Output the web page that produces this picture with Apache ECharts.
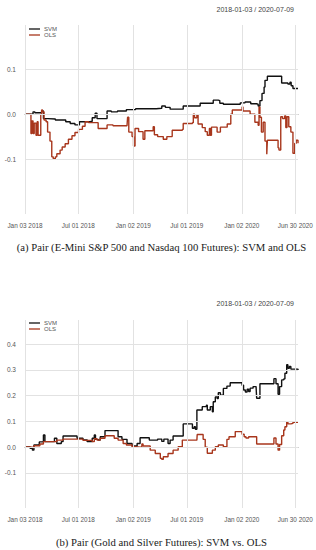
<!DOCTYPE html>
<html>
<head>
<meta charset="utf-8">
<script src="https://cdn.jsdelivr.net/npm/echarts@6/dist/echarts.min.js"></script>
<style>
html,body{margin:0;padding:0;background:#fff;}
#chart{width:316px;height:550px;}
</style>
</head>
<body>
<div id="chart"></div>
<script>
// ---------- DATA ----------
const xTickDates = ['2018-01-03','2018-07-01','2019-01-02','2019-07-01','2020-01-02','2020-06-30'];
const xRange = ['2018-01-03','2020-07-09'];
const rangeLabel = '2018-01-03 / 2020-07-09';
const yTicksA = [-0.1, 0.0, 0.1];
const yTicksB = [-0.1, 0.0, 0.1, 0.2, 0.3, 0.4];
const captionA = '(a) Pair (E-Mini S&P 500 and Nasdaq 100 Futures): SVM and OLS';
const captionB = '(b) Pair (Gold and Silver Futures): SVM vs. OLS';
const seriesNames = ['SVM','OLS'];

// Panel (a): E-Mini S&P 500 / Nasdaq 100
const svmA = [
 ['2018-01-03',0.000],['2018-01-26',0.000],['2018-01-30',0.005],['2018-02-05',0.003],['2018-02-26',0.004],
 ['2018-02-28',0.007],['2018-03-06',-0.010],['2018-03-20',-0.011],['2018-04-15',-0.013],['2018-05-15',-0.013],
 ['2018-05-20',-0.017],['2018-06-04',-0.021],['2018-06-20',-0.024],['2018-07-05',-0.017],['2018-08-10',-0.016],
 ['2018-08-17',-0.008],['2018-08-27',0.002],['2018-09-02',-0.010],['2018-09-30',-0.010],['2018-10-06',0.007],
 ['2018-10-20',0.005],['2018-11-10',0.007],['2018-12-10',0.010],['2019-01-10',0.012],['2019-03-20',0.013],
 ['2019-04-08',0.018],['2019-04-20',0.015],['2019-05-06',0.011],['2019-06-16',0.011],['2019-06-19',0.018],
 ['2019-08-15',0.024],['2019-09-25',0.024],['2019-09-28',0.031],['2019-10-15',0.030],['2019-10-20',0.024],
 ['2019-11-01',0.022],['2019-12-18',0.022],['2019-12-28',0.025],['2020-01-13',0.027],['2020-02-01',0.023],
 ['2020-02-20',0.022],['2020-02-26',0.018],['2020-03-03',0.030],['2020-03-10',0.046],['2020-03-17',0.060],
 ['2020-03-20',0.075],['2020-03-28',0.084],['2020-05-10',0.084],['2020-05-15',0.069],['2020-06-05',0.067],
 ['2020-06-12',0.071],['2020-06-16',0.063],['2020-06-22',0.057],['2020-07-09',0.057]
];
const olsA = [
 ['2018-01-03',0.000],['2018-01-20',0.000],['2018-01-23',-0.043],['2018-01-26',-0.015],['2018-01-30',-0.043],
 ['2018-02-03',-0.020],['2018-02-09',-0.047],['2018-02-13',-0.017],['2018-02-16',-0.047],['2018-02-22',-0.047],
 ['2018-02-25',0.000],['2018-02-28',0.009],['2018-03-03',0.005],['2018-03-08',-0.013],['2018-03-15',-0.017],
 ['2018-03-20',-0.040],['2018-03-28',-0.060],['2018-04-03',-0.095],['2018-04-08',-0.099],['2018-04-15',-0.095],
 ['2018-04-20',-0.088],['2018-05-01',-0.080],['2018-05-08',-0.073],['2018-05-18',-0.066],['2018-05-29',-0.056],
 ['2018-06-10',-0.048],['2018-06-20',-0.041],['2018-07-02',-0.034],['2018-07-15',-0.027],['2018-07-24',-0.017],
 ['2018-08-05',-0.019],['2018-08-27',-0.019],['2018-09-06',-0.032],['2018-09-29',-0.032],['2018-10-06',-0.024],
 ['2018-10-26',-0.026],['2018-12-12',-0.026],['2018-12-14',-0.007],['2018-12-18',-0.040],['2018-12-29',-0.050],
 ['2019-01-03',-0.071],['2019-01-08',-0.032],['2019-01-20',-0.039],['2019-02-04',-0.056],['2019-02-10',-0.037],
 ['2019-02-28',-0.037],['2019-03-10',-0.028],['2019-03-14',-0.046],['2019-03-25',-0.050],['2019-04-13',-0.056],
 ['2019-04-25',-0.050],['2019-05-13',-0.036],['2019-06-16',-0.034],['2019-06-19',-0.021],['2019-07-20',-0.019],
 ['2019-07-23',0.000],['2019-07-27',-0.008],['2019-08-04',-0.002],['2019-08-08',-0.022],['2019-08-22',-0.030],
 ['2019-09-01',-0.039],['2019-09-08',-0.047],['2019-09-15',-0.032],['2019-09-18',-0.047],['2019-09-22',-0.029],
 ['2019-10-11',-0.040],['2019-10-22',-0.029],['2019-11-14',-0.022],['2019-11-26',0.000],['2019-12-01',0.009],
 ['2019-12-28',0.009],['2020-01-03',0.016],['2020-01-06',0.007],['2020-01-30',0.000],['2020-02-15',-0.018],
 ['2020-02-26',-0.025],['2020-02-29',0.016],['2020-03-03',-0.007],['2020-03-08',-0.040],['2020-03-14',-0.018],
 ['2020-03-20',-0.060],['2020-03-26',-0.089],['2020-03-28',-0.058],['2020-04-25',-0.058],['2020-05-03',-0.075],
 ['2020-05-06',-0.080],['2020-05-12',-0.006],['2020-05-18',-0.010],['2020-05-25',-0.004],['2020-05-29',-0.030],
 ['2020-06-02',-0.006],['2020-06-08',-0.028],['2020-06-15',-0.040],['2020-06-22',-0.087],['2020-06-28',-0.065],
 ['2020-07-03',-0.058],['2020-07-09',-0.065]
];

// Panel (b): Gold / Silver
const svmB = [
 ['2018-01-03',0.000],['2018-01-20',-0.005],['2018-01-28',-0.012],['2018-02-02',0.008],['2018-02-20',0.020],
 ['2018-03-06',0.047],['2018-03-11',0.021],['2018-04-08',0.021],['2018-04-12',0.034],['2018-04-20',0.014],
 ['2018-05-05',0.021],['2018-05-11',0.043],['2018-06-20',0.043],['2018-06-27',0.034],['2018-07-17',0.028],
 ['2018-07-31',0.021],['2018-08-17',0.034],['2018-08-24',0.047],['2018-08-28',0.030],['2018-09-06',0.027],
 ['2018-09-13',0.040],['2018-09-29',0.064],['2018-11-09',0.064],['2018-11-12',0.040],['2018-11-25',0.030],
 ['2018-12-12',0.014],['2018-12-29',0.004],['2019-01-15',0.014],['2019-01-25',0.036],['2019-02-18',0.036],
 ['2019-02-25',0.027],['2019-03-25',0.031],['2019-04-08',0.022],['2019-04-15',0.031],['2019-04-29',0.014],
 ['2019-05-06',0.027],['2019-05-16',0.043],['2019-06-16',0.043],['2019-06-19',0.090],['2019-07-13',0.090],
 ['2019-07-20',0.073],['2019-07-26',0.079],['2019-07-30',0.069],['2019-08-04',0.144],['2019-08-15',0.144],
 ['2019-08-22',0.157],['2019-09-05',0.163],['2019-09-08',0.144],['2019-09-18',0.157],['2019-09-25',0.137],
 ['2019-09-28',0.176],['2019-10-05',0.195],['2019-10-11',0.189],['2019-10-15',0.211],['2019-10-22',0.202],
 ['2019-11-01',0.228],['2019-11-13',0.237],['2019-11-24',0.250],['2019-12-28',0.250],['2020-01-03',0.240],
 ['2020-01-08',0.222],['2020-01-14',0.214],['2020-01-20',0.225],['2020-01-25',0.216],['2020-01-30',0.229],
 ['2020-02-09',0.235],['2020-02-19',0.235],['2020-02-21',0.190],['2020-02-29',0.190],['2020-03-03',0.246],
 ['2020-04-16',0.246],['2020-04-19',0.266],['2020-04-26',0.246],['2020-05-03',0.205],['2020-05-08',0.235],
 ['2020-05-15',0.261],['2020-05-22',0.265],['2020-05-26',0.287],['2020-06-01',0.320],['2020-06-05',0.306],
 ['2020-06-10',0.313],['2020-06-15',0.303],['2020-07-09',0.300]
];
const olsB = [
 ['2018-01-03',0.000],['2018-01-20',-0.002],['2018-02-02',0.005],['2018-02-22',0.012],['2018-03-06',0.021],
 ['2018-04-08',0.021],['2018-04-20',0.027],['2018-05-11',0.031],['2018-06-27',0.031],['2018-07-17',0.026],
 ['2018-08-17',0.021],['2018-08-24',0.032],['2018-09-02',0.027],['2018-09-13',0.034],['2018-09-29',0.044],
 ['2018-10-23',0.044],['2018-10-30',0.034],['2018-11-12',0.027],['2018-11-29',0.014],['2018-12-10',0.008],
 ['2018-12-29',0.001],['2019-01-10',-0.001],['2019-01-25',0.001],['2019-01-31',0.012],['2019-02-04',0.004],
 ['2019-02-28',-0.012],['2019-03-17',-0.025],['2019-04-03',-0.044],['2019-04-08',-0.048],['2019-04-13',-0.038],
 ['2019-04-29',-0.025],['2019-05-16',-0.012],['2019-06-02',0.001],['2019-06-16',0.027],['2019-08-04',0.027],
 ['2019-08-05',0.049],['2019-08-20',0.049],['2019-08-25',0.030],['2019-09-01',-0.001],['2019-09-08',-0.024],
 ['2019-09-25',-0.012],['2019-10-05',0.001],['2019-10-15',0.008],['2019-11-01',0.001],['2019-11-13',0.030],
 ['2019-11-20',0.040],['2019-12-11',0.060],['2020-01-03',0.050],['2020-01-10',0.040],['2020-01-16',0.035],
 ['2020-01-25',0.040],['2020-02-15',0.040],['2020-02-21',0.012],['2020-04-16',0.012],['2020-04-19',0.035],
 ['2020-04-26',0.012],['2020-05-03',-0.012],['2020-05-08',0.010],['2020-05-15',0.044],['2020-05-22',0.066],
 ['2020-05-26',0.079],['2020-06-01',0.098],['2020-06-05',0.090],['2020-06-15',0.092],['2020-06-22',0.096],
 ['2020-07-09',0.098]
];

// ---------- HELPERS ----------
const MONTHS = ['Jan','Feb','Mar','Apr','May','Jun','Jul','Aug','Sep','Oct','Nov','Dec'];
function ts(s){ const p = s.split('-').map(Number); return Date.UTC(p[0], p[1]-1, p[2]); }
function fmtDate(v){ const d = new Date(v); const dd = String(d.getUTCDate()).padStart(2,'0');
  return MONTHS[d.getUTCMonth()] + ' ' + dd + ' ' + d.getUTCFullYear(); }
function toPts(arr){ return arr.map(p => [ts(p[0]), p[1]]); }

const SVM_COLOR = '#111111';
const OLS_COLOR = '#a8361c';
const GRID_COLOR = '#e2e2e2';
const AXIS_FONT = 'Liberation Sans';

function xAxisCfg(gridIndex){
  return {
    type:'value', gridIndex, min: ts(xRange[0]), max: ts(xRange[1]),
    splitLine:{show:false},
    axisLine:{show:true, lineStyle:{color:'#8a8a8a', width:1}},
    axisTick:{show:true, customValues: xTickDates.map(ts), length:3, lineStyle:{color:'#8a8a8a'}},
    axisLabel:{show:true, customValues: xTickDates.map(ts), formatter: fmtDate,
      fontSize:6.4, color:'#555', margin:8, fontFamily: AXIS_FONT}
  };
}
function yAxisCfg(gridIndex, min, max, ticks){
  return {
    type:'value', gridIndex, min, max,
    splitLine:{show:false}, axisLine:{show:false}, axisTick:{show:false},
    axisLabel:{show:true, customValues: ticks, formatter: v => Number(v).toFixed(1),
      fontSize:6.5, color:'#555', margin:9, fontFamily: AXIS_FONT}
  };
}
function gridSeries(idx, yTicks){
  return {
    type:'line', xAxisIndex:idx, yAxisIndex:idx, data:[], z:1, silent:true,
    markLine:{silent:true, symbol:['none','none'], animation:false, label:{show:false},
      lineStyle:{color:GRID_COLOR, width:1, type:'solid'}, emphasis:{disabled:true},
      data: xTickDates.map(d => ({xAxis: ts(d)})).concat(yTicks.map(v => ({yAxis: v})))}
  };
}
function lineSeries(idx, name, data, color){
  return {
    type:'line', name, xAxisIndex:idx, yAxisIndex:idx, data: toPts(data),
    step:'end', symbol:'none', showSymbol:false, z:3, animation:false,
    lineStyle:{color, width:1.4}, itemStyle:{color}, emphasis:{disabled:true}
  };
}
function legendCfg(top){
  return {
    data: seriesNames, orient:'vertical', left:29, top, padding:0,
    icon:'rect', itemWidth:11, itemHeight:1.3, itemGap:0,
    selectedMode:false,
    textStyle:{fontSize:6, color:'#555', fontFamily: AXIS_FONT, lineHeight:6, padding:[0,0,0,-1]}
  };
}
function txt(text, x, y, font, align, color){
  return {type:'text', x, y, silent:true,
    style:{text, font, fill: color, textAlign: align, textVerticalAlign:'middle'}};
}

const chart = echarts.init(document.getElementById('chart'), null, {renderer:'svg'});
chart.setOption({
  animation:false,
  backgroundColor:'#ffffff',
  grid:[
    {left:25, right:18, top:25, height:189},
    {left:25, right:18, top:320, height:188}
  ],
  xAxis:[xAxisCfg(0), xAxisCfg(1)],
  yAxis:[yAxisCfg(0, -0.222, 0.198, yTicksA), yAxisCfg(1, -0.237, 0.494, yTicksB)],
  legend:[legendCfg(26), legendCfg(320)],
  series:[
    gridSeries(0, yTicksA),
    lineSeries(0, seriesNames[0], svmA, SVM_COLOR),
    lineSeries(0, seriesNames[1], olsA, OLS_COLOR),
    gridSeries(1, yTicksB),
    lineSeries(1, seriesNames[0], svmB, SVM_COLOR),
    lineSeries(1, seriesNames[1], olsB, OLS_COLOR)
  ],
  graphic:[
    txt(rangeLabel, 294, 9, '7px "Liberation Sans"', 'right', '#444'),
    txt(rangeLabel, 294, 303, '7px "Liberation Sans"', 'right', '#444'),
    txt(captionA, 161.5, 247, '10.7px "Liberation Serif"', 'center', '#1a1a1a'),
    txt(captionB, 161.5, 542, '10.7px "Liberation Serif"', 'center', '#1a1a1a')
  ]
});
</script>
</body>
</html>
